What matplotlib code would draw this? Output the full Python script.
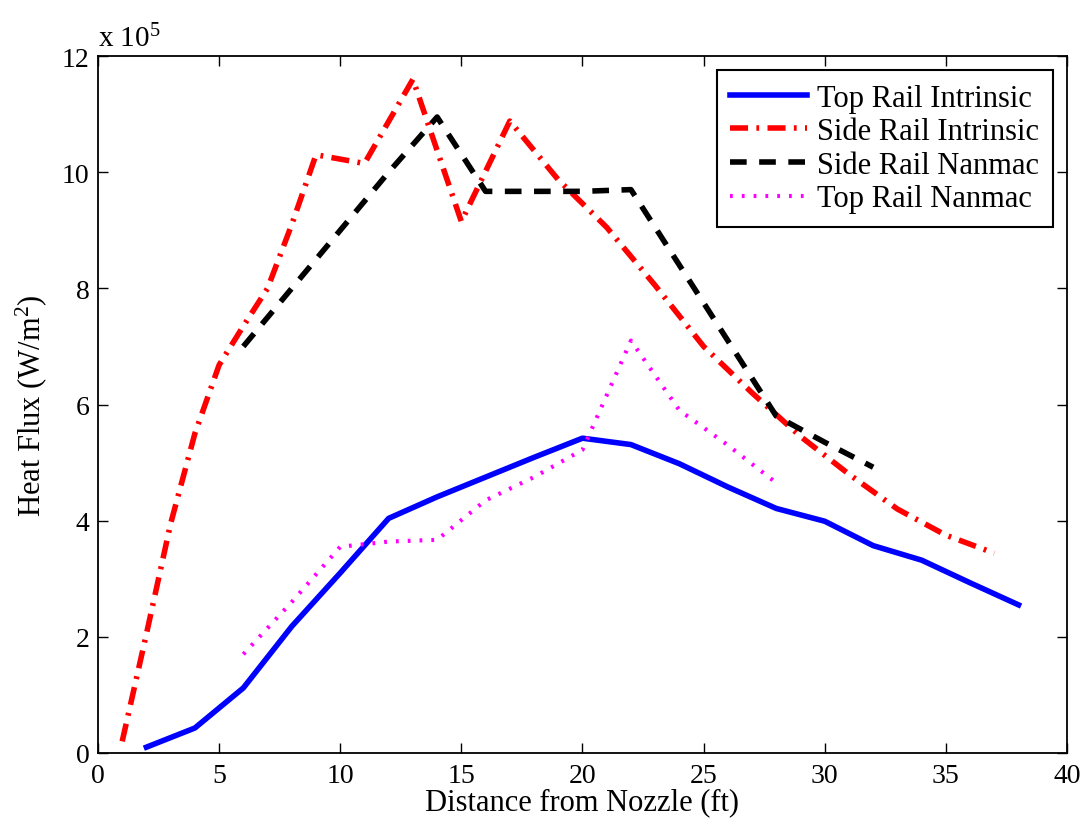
# heat flux along the rail, intrinsic vs nanmac gauges
import matplotlib
matplotlib.use('Agg')
import matplotlib.pyplot as plt

plt.rcParams['font.family'] = ['Liberation Serif', 'DejaVu Serif']
plt.rcParams['mathtext.fontset'] = 'custom'
plt.rcParams['mathtext.rm'] = 'Liberation Serif'
plt.rcParams['mathtext.it'] = 'Liberation Serif:italic'
plt.rcParams['lines.scale_dashes'] = False

# values in units of 1e5 W/m^2, distance in ft
top_int_x = [2, 4, 6, 8, 10, 12, 14, 16, 18, 20, 22, 24, 26, 28, 30, 32, 34, 36, 38]
top_int_y = [0.1, 0.43, 1.12, 2.18, 3.1, 4.04, 4.41, 4.75, 5.09, 5.42, 5.31, 4.98,
             4.58, 4.21, 3.99, 3.57, 3.32, 2.93, 2.55]

side_int_x = [1, 2, 3, 4, 5, 6, 7, 8, 9, 11, 13, 15, 17, 19, 21, 23, 25, 27, 29,
              31, 33, 35, 37]
side_int_y = [0.2, 2.05, 3.95, 5.5, 6.68, 7.35, 8.0, 9.1, 10.3, 10.15, 11.6, 9.15,
              10.88, 9.87, 9.05, 8.05, 7.0, 6.2, 5.45, 4.8, 4.2, 3.75, 3.44]

side_nan_x = [6, 8, 10, 12, 14, 16, 18, 20, 22, 24, 26, 28, 30, 32]
side_nan_y = [7.0, 8.0, 9.0, 10.0, 10.95, 9.67, 9.67, 9.67, 9.7, 8.4, 7.1, 5.8,
              5.35, 4.92]

top_nan_x = [6, 8, 10, 12, 14, 16, 18, 20, 22, 24, 26, 28]
top_nan_y = [1.7, 2.6, 3.55, 3.64, 3.67, 4.35, 4.75, 5.22, 7.1, 5.9, 5.3, 4.65]

fig = plt.figure(figsize=(10.85, 8.29), dpi=100)
ax = fig.add_axes([0.0903, 0.0905, 0.8931, 0.8407])

ax.plot(top_int_x, top_int_y, '-', color='blue', lw=4, label='Top Rail Intrinsic')
ax.plot(side_int_x, side_int_y, color='red', lw=4, dashes=(13, 6, 2, 6),
        label='Side Rail Intrinsic')
ax.plot(side_nan_x, side_nan_y, color='black', lw=4, dashes=(12, 9),
        label='Side Rail Nanmac')
ax.plot(top_nan_x, top_nan_y, color='magenta', lw=3, dashes=(2, 6.5),
        label='Top Rail Nanmac')

ax.set_xlim(0, 40)
ax.set_ylim(0, 12)
ax.set_xticks(range(0, 41, 5))
ax.set_yticks(range(0, 13, 2))
ax.tick_params(direction='in', length=7, width=1, top=True, right=True,
               labelsize=20, pad=6)
ax.tick_params(axis='x', pad=7)
for s in ax.spines.values():
    s.set_linewidth(1.3)

ax.set_xlabel('Distance from Nozzle (ft)', fontsize=22, labelpad=0)
ax.set_ylabel('Heat Flux (W/m$^2$)', fontsize=22, labelpad=9)
ax.text(0.0, 1.005, 'x 10$^5$', transform=ax.transAxes, fontsize=21,
        ha='left', va='bottom')

leg = ax.legend(loc='upper right', fontsize=22, handlelength=2.5,
                fancybox=False, framealpha=1, borderaxespad=0.45,
                labelspacing=0.15, handletextpad=0.35, borderpad=0.45)
leg.get_frame().set_edgecolor('black')
leg.get_frame().set_linewidth(1.5)

fig.savefig('out.png', dpi=100)
